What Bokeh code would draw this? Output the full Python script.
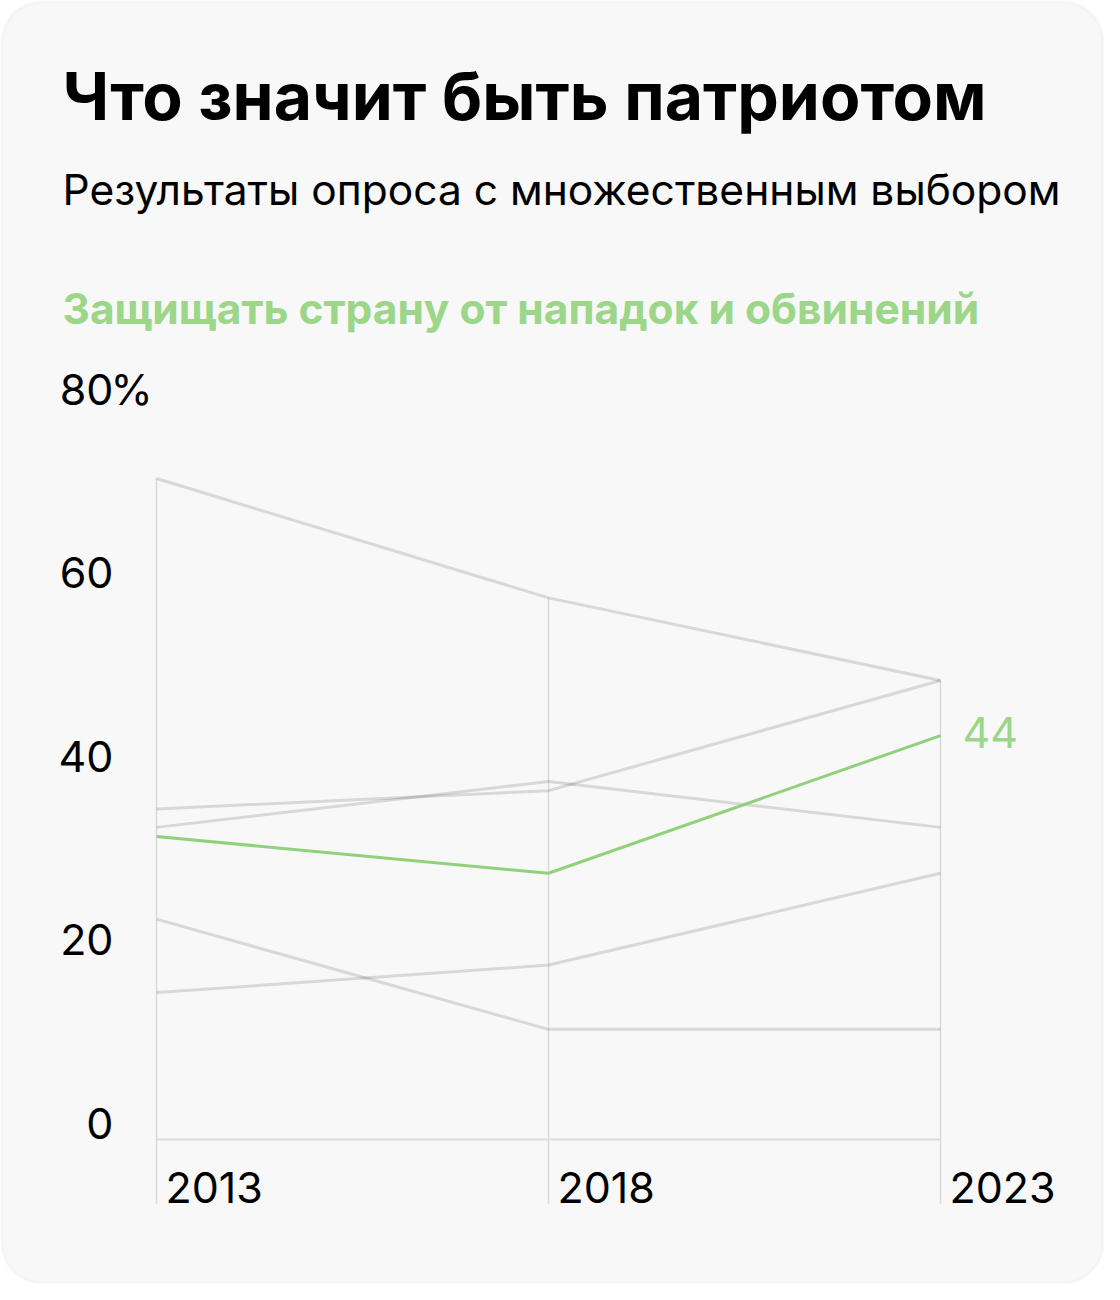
from bokeh.plotting import figure
from bokeh.models import Range1d, Label, BoxAnnotation
from bokeh.core.properties import value
from bokeh.embed import file_html
from bokeh.resources import INLINE

# ---- data ----
years = [2013, 2018, 2023]
highlight = [33, 29, 44]            # Защищать страну от нападок и обвинений
other_1 = [72, 59, 50]
other_2 = [36, 38, 50]
other_3 = [34, 39, 34]
other_4 = [16, 19, 29]
other_5 = [24, 12, 12]
y_ticks = [0, 20, 40, 60, 80]
y_tick_labels = ["0", "20", "40", "60", "80"]
x_tick_labels = ["2013", "2018", "2023"]

title = "Что значит быть патриотом"
subtitle = "Результаты опроса с множественным выбором"
series_label = "Защищать страну от нападок и обвинений"

# ---- layout ----
W, H = 1104, 1284
FONT = "Inter"
GREEN_LINE = "#92d17c"
GREEN_TEXT = "#9cd689"
BASE_FIX = 0.375   # em; compensates the baseline placement of the svg text

px_per_year = 78.4
x0 = 2013 - 156 / px_per_year
px_per_unit = 9.18
y0 = -(H - 1139) / px_per_unit

p = figure(width=W, height=H, output_backend="svg", toolbar_location=None,
           x_axis_type=None, y_axis_type=None,
           x_range=Range1d(x0, x0 + W / px_per_year),
           y_range=Range1d(y0, y0 + H / px_per_unit),
           min_border=0, min_border_left=0, min_border_right=0,
           min_border_top=0, min_border_bottom=0)
p.outline_line_color = None
p.background_fill_color = "white"
p.border_fill_color = "white"
p.grid.visible = False

card = BoxAnnotation(left=1.5, right=W - 1.5, bottom=1.5, top=H - 1.5,
                     left_units="screen", right_units="screen",
                     top_units="screen", bottom_units="screen",
                     fill_color="#f8f8f8", fill_alpha=1.0,
                     line_color="#e8e8e8", line_width=3,
                     border_radius=40, level="underlay")
p.add_layout(card)

all_series = [other_1, other_2, other_3, other_4, other_5, highlight]
tops = [max(s[i] for s in all_series) for i in range(len(years))]

# vertical year lines and baseline
p.segment(x0=years, y0=tops, x1=years, y1=[-7] * len(years),
          line_color="#d9d9d9", line_width=1.5)
p.segment(x0=[years[0]], y0=[0], x1=[years[-1]], y1=[0],
          line_color="#dcdcdc", line_width=2)

for s in [other_1, other_2, other_3, other_4, other_5]:
    p.line(years, s, line_color="black", line_alpha=0.13, line_width=3,
           line_join="round")
p.line(years, highlight, line_color=GREEN_LINE, line_width=3, line_join="round")

TS = 43
fix = -round(BASE_FIX * TS)

# y tick labels
p.text(x=[years[0]] * len(y_ticks), y=y_ticks, text=y_tick_labels,
       x_offset=-43, y_offset=fix, text_align="right", text_baseline="alphabetic",
       text_font=value(FONT), text_font_size=f"{TS}px", text_color="#000000")
p.text(x=[years[0]], y=[y_ticks[-1]], text=["%"], x_offset=-46, y_offset=fix,
       text_align="left", text_baseline="alphabetic",
       text_font=value(FONT), text_font_size=f"{TS}px", text_color="#000000")

# x tick labels
p.text(x=years, y=[0] * len(years), text=x_tick_labels, x_offset=9,
       y_offset=64 + fix, text_align="left", text_baseline="alphabetic",
       text_font=value(FONT), text_font_size=f"{TS}px", text_color="#000000")

# end value label
p.text(x=[years[-1]], y=[highlight[-1]], text=[str(highlight[-1])],
       x_offset=22, y_offset=13 + fix, text_align="left", text_baseline="alphabetic",
       text_font=value(FONT), text_font_size=f"{TS}px", text_color=GREEN_TEXT)

def add_label(txt, baseline_y, size, bold, color):
    p.add_layout(Label(x=62, y=H - baseline_y + round(BASE_FIX * size),
                       x_units="screen", y_units="screen", text=txt,
                       text_font=FONT, text_font_size=f"{size}px",
                       text_font_style="bold" if bold else "normal",
                       text_color=color, text_baseline="alphabetic",
                       text_align="left"))

add_label(title, 120, 66, True, "#000000")
add_label(subtitle, 205, 42.5, False, "#000000")
add_label(series_label, 324, 42.5, True, GREEN_TEXT)

open("out.html", "w").write(file_html(p, INLINE))
